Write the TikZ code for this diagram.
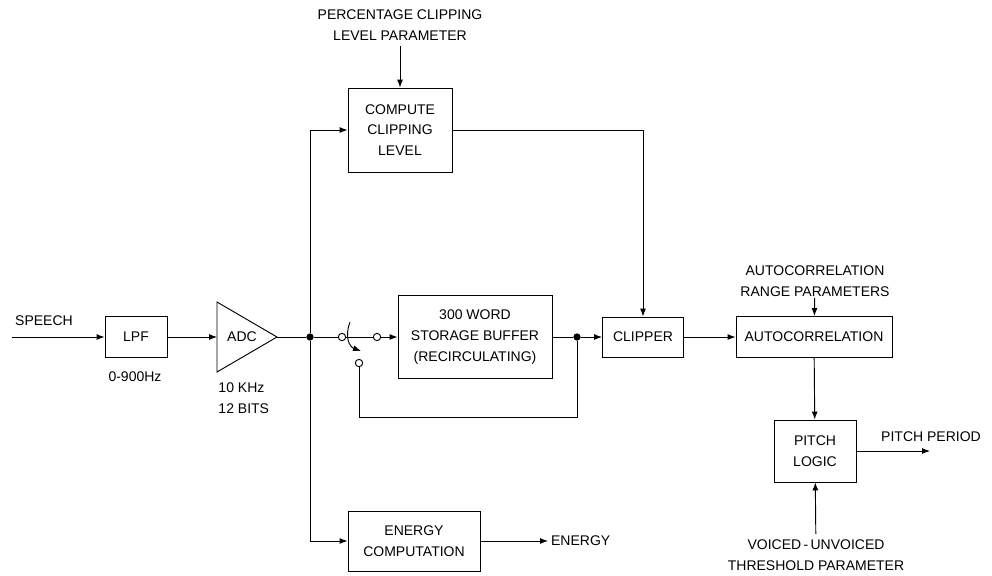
\documentclass[tikz,border=0pt]{standalone}
\usepackage{fontspec}
\setmainfont{Liberation Sans}
\usetikzlibrary{positioning,arrows.meta}
\begin{document}
\begin{tikzpicture}[>={Latex[length=6pt,width=4.5pt]}, x=0.75pt, y=-0.75pt,
    line width=0.7pt, font=\fontsize{10.5}{15.5}\selectfont,
    blok/.style={draw, align=center, inner sep=2pt},
    lbl/.style={align=center, inner sep=0pt},
    knoop/.style={circle, fill, inner sep=0pt, minimum size=5.5pt},
    contact/.style={circle, draw, fill=white, inner sep=0pt, minimum size=5.5pt}]

  \useasboundingbox (0,0) rectangle (992,575);

  % Ingang
  \coordinate (speech) at (12,337);
  \node[lbl] (speechlbl) at (44,321) {SPEECH};
  \node[blok, minimum width=46.5pt, minimum height=30.75pt] (lpf) at (136,337) {LPF};
  \node[lbl] (lpfband) at (135,377) {0-900Hz};

  % ADC
  \coordinate (adcin) at (217,337);
  \coordinate (adcout) at (277,337);
  \draw (217,302) -- (adcout) -- (217,372) -- cycle;
  \node[lbl] (adc) at (242,337) {ADC};
  \node[lbl, align=left, anchor=west] (adcspec) at (218,398) {10 KHz\\12 BITS};

  % Blokken
  \node[blok, minimum width=78pt, minimum height=63pt] (ccl) at (400,130)
    {COMPUTE\\CLIPPING\\LEVEL};
  \node[lbl] (pct) at (400,25) {PERCENTAGE CLIPPING\\LEVEL PARAMETER};
  \node[blok, minimum width=115.5pt, minimum height=62.25pt] (buf) at (475,337)
    {300 WORD\\STORAGE BUFFER\\(RECIRCULATING)};
  \node[blok, minimum width=60.75pt, minimum height=30pt] (clip) at (643,337) {CLIPPER};
  \node[blok, minimum width=117pt, minimum height=30.75pt] (acorr) at (814,337)
    {AUTOCORRELATION};
  \node[lbl] (range) at (815,281) {AUTOCORRELATION\\RANGE PARAMETERS};
  \node[blok, minimum width=61.5pt, minimum height=46.5pt] (plogic) at (815,451)
    {PITCH\\LOGIC};
  \node[lbl] (vuv) at (816,555) {VOICED\,-\,UNVOICED\\THRESHOLD PARAMETER};
  \node[blok, minimum width=99pt, minimum height=45pt] (energy) at (414,541)
    {ENERGY\\COMPUTATION};

  % Knooppunten en schakelaar
  \node[knoop] (j1) at (310,337) {};
  \node[knoop] (j2) at (577,337) {};
  \node[contact] (sw1) at (342,337) {};
  \node[contact] (sw2) at (377,337) {};
  \node[contact] (sw3) at (359,363) {};
  \coordinate (fb) at (577,417);

  % Uitgangen
  \coordinate (pout) at (930,451);
  \node[lbl] (poutlbl) at (931,437) {PITCH PERIOD};
  \coordinate (eout) at (548,541);
  \node[lbl, anchor=west] (eoutlbl) at ([xshift=2pt]eout) {ENERGY};

  % Verbindingen
  \draw[->] (speech) -- (lpf);
  \draw[->] (lpf) -- (adcin);
  \draw (adcout) -- (j1) -- (sw1) -- (sw2);
  \draw[->] (sw2) -- (buf);
  \draw[->] (j1) |- (ccl);
  \draw[->] (j1) |- (energy);
  \draw[->, shorten <=4pt] (pct) -- (ccl);
  \draw[->] (ccl) -| (clip);
  \draw (buf) -- (j2);
  \draw[->] (j2) -- (clip);
  \draw (j2) -- (fb) -| (sw3);
  \draw[->] (clip) -- (acorr);
  \draw[->, shorten <=1pt] (range) -- (acorr);
  \draw[->] (acorr) -- (plogic);
  \draw[->] (plogic) -- (pout);
  \draw[->, shorten <=4pt] (vuv) -- (plogic);
  \draw[->] (energy) -- (eout);
  \draw[->] (350,322) .. controls (344,338) and (350,347) .. (361,351);

\end{tikzpicture}
\end{document}
